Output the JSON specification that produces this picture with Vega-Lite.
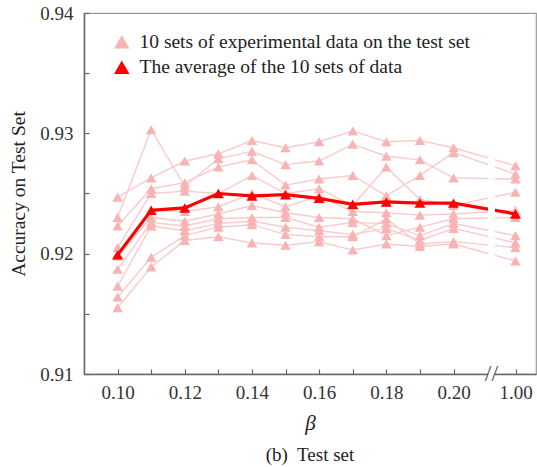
{
  "$schema": "https://vega.github.io/schema/vega-lite/v6.json",
  "width": 452,
  "height": 361,
  "autosize": {"type": "none"},
  "padding": {"left": 84, "top": 13, "right": 1, "bottom": 93},
  "background": "white",
  "config": {
    "font": "Liberation Serif",
    "view": {"stroke": "#9a9a9a", "strokeWidth": 1.2},
    "axis": {
      "domainColor": "#666666",
      "domainWidth": 1.5,
      "tickColor": "#666666",
      "tickWidth": 1.2,
      "tickSize": -5,
      "labelFont": "Liberation Serif",
      "labelFontSize": 19,
      "labelColor": "#333333",
      "titleFont": "Liberation Serif",
      "titleColor": "#222222",
      "titleFontWeight": "normal",
      "grid": false
    }
  },
  "title": {
    "text": "(b)\u00a0 Test set",
    "orient": "bottom",
    "font": "Liberation Serif",
    "fontSize": 19,
    "fontWeight": "normal",
    "color": "#222222",
    "offset": 13
  },
  "datasets": {
    "sets": [
      {"b":0.10,"acc":0.9247,"set":"S1"},{"b":0.11,"acc":0.9263,"set":"S1"},{"b":0.12,"acc":0.9277,"set":"S1"},{"b":0.13,"acc":0.9283,"set":"S1"},{"b":0.14,"acc":0.9294,"set":"S1"},{"b":0.15,"acc":0.9288,"set":"S1"},{"b":0.16,"acc":0.9293,"set":"S1"},{"b":0.17,"acc":0.9302,"set":"S1"},{"b":0.18,"acc":0.9293,"set":"S1"},{"b":0.19,"acc":0.9294,"set":"S1"},{"b":0.20,"acc":0.9288,"set":"S1"},{"b":1.00,"acc":0.9273,"set":"S1"},
      {"b":0.10,"acc":0.9230,"set":"S2"},{"b":0.11,"acc":0.9303,"set":"S2"},{"b":0.12,"acc":0.9256,"set":"S2"},{"b":0.13,"acc":0.9279,"set":"S2"},{"b":0.14,"acc":0.9285,"set":"S2"},{"b":0.15,"acc":0.9274,"set":"S2"},{"b":0.16,"acc":0.9277,"set":"S2"},{"b":0.17,"acc":0.9291,"set":"S2"},{"b":0.18,"acc":0.9281,"set":"S2"},{"b":0.19,"acc":0.9278,"set":"S2"},{"b":0.20,"acc":0.9263,"set":"S2"},{"b":1.00,"acc":0.9262,"set":"S2"},
      {"b":0.10,"acc":0.9223,"set":"S3"},{"b":0.11,"acc":0.9254,"set":"S3"},{"b":0.12,"acc":0.9259,"set":"S3"},{"b":0.13,"acc":0.9272,"set":"S3"},{"b":0.14,"acc":0.9278,"set":"S3"},{"b":0.15,"acc":0.9257,"set":"S3"},{"b":0.16,"acc":0.9262,"set":"S3"},{"b":0.17,"acc":0.9265,"set":"S3"},{"b":0.18,"acc":0.9248,"set":"S3"},{"b":0.19,"acc":0.9265,"set":"S3"},{"b":0.20,"acc":0.9284,"set":"S3"},{"b":1.00,"acc":0.9266,"set":"S3"},
      {"b":0.10,"acc":0.9205,"set":"S4"},{"b":0.11,"acc":0.9250,"set":"S4"},{"b":0.12,"acc":0.9252,"set":"S4"},{"b":0.13,"acc":0.9250,"set":"S4"},{"b":0.14,"acc":0.9265,"set":"S4"},{"b":0.15,"acc":0.9250,"set":"S4"},{"b":0.16,"acc":0.9254,"set":"S4"},{"b":0.17,"acc":0.9240,"set":"S4"},{"b":0.18,"acc":0.9272,"set":"S4"},{"b":0.19,"acc":0.9245,"set":"S4"},{"b":0.20,"acc":0.9240,"set":"S4"},{"b":1.00,"acc":0.9251,"set":"S4"},
      {"b":0.10,"acc":0.9200,"set":"S5"},{"b":0.11,"acc":0.9236,"set":"S5"},{"b":0.12,"acc":0.9235,"set":"S5"},{"b":0.13,"acc":0.9239,"set":"S5"},{"b":0.14,"acc":0.9250,"set":"S5"},{"b":0.15,"acc":0.9239,"set":"S5"},{"b":0.16,"acc":0.9248,"set":"S5"},{"b":0.17,"acc":0.9235,"set":"S5"},{"b":0.18,"acc":0.9234,"set":"S5"},{"b":0.19,"acc":0.9232,"set":"S5"},{"b":0.20,"acc":0.9233,"set":"S5"},{"b":1.00,"acc":0.9236,"set":"S5"},
      {"b":0.10,"acc":0.9198,"set":"S6"},{"b":0.11,"acc":0.9230,"set":"S6"},{"b":0.12,"acc":0.9227,"set":"S6"},{"b":0.13,"acc":0.9233,"set":"S6"},{"b":0.14,"acc":0.9240,"set":"S6"},{"b":0.15,"acc":0.9234,"set":"S6"},{"b":0.16,"acc":0.9230,"set":"S6"},{"b":0.17,"acc":0.9229,"set":"S6"},{"b":0.18,"acc":0.9215,"set":"S6"},{"b":0.19,"acc":0.9222,"set":"S6"},{"b":0.20,"acc":0.9229,"set":"S6"},{"b":1.00,"acc":0.9230,"set":"S6"},
      {"b":0.10,"acc":0.9187,"set":"S7"},{"b":0.11,"acc":0.9226,"set":"S7"},{"b":0.12,"acc":0.9223,"set":"S7"},{"b":0.13,"acc":0.9229,"set":"S7"},{"b":0.14,"acc":0.9230,"set":"S7"},{"b":0.15,"acc":0.9230,"set":"S7"},{"b":0.16,"acc":0.9222,"set":"S7"},{"b":0.17,"acc":0.9226,"set":"S7"},{"b":0.18,"acc":0.9225,"set":"S7"},{"b":0.19,"acc":0.9215,"set":"S7"},{"b":0.20,"acc":0.9225,"set":"S7"},{"b":1.00,"acc":0.9215,"set":"S7"},
      {"b":0.10,"acc":0.9173,"set":"S8"},{"b":0.11,"acc":0.9223,"set":"S8"},{"b":0.12,"acc":0.9219,"set":"S8"},{"b":0.13,"acc":0.9225,"set":"S8"},{"b":0.14,"acc":0.9227,"set":"S8"},{"b":0.15,"acc":0.9222,"set":"S8"},{"b":0.16,"acc":0.9219,"set":"S8"},{"b":0.17,"acc":0.9216,"set":"S8"},{"b":0.18,"acc":0.9221,"set":"S8"},{"b":0.19,"acc":0.9211,"set":"S8"},{"b":0.20,"acc":0.9221,"set":"S8"},{"b":1.00,"acc":0.9209,"set":"S8"},
      {"b":0.10,"acc":0.9164,"set":"S9"},{"b":0.11,"acc":0.9197,"set":"S9"},{"b":0.12,"acc":0.9215,"set":"S9"},{"b":0.13,"acc":0.9222,"set":"S9"},{"b":0.14,"acc":0.9224,"set":"S9"},{"b":0.15,"acc":0.9216,"set":"S9"},{"b":0.16,"acc":0.9214,"set":"S9"},{"b":0.17,"acc":0.9214,"set":"S9"},{"b":0.18,"acc":0.9229,"set":"S9"},{"b":0.19,"acc":0.9208,"set":"S9"},{"b":0.20,"acc":0.9210,"set":"S9"},{"b":1.00,"acc":0.9205,"set":"S9"},
      {"b":0.10,"acc":0.9155,"set":"S10"},{"b":0.11,"acc":0.9189,"set":"S10"},{"b":0.12,"acc":0.9211,"set":"S10"},{"b":0.13,"acc":0.9214,"set":"S10"},{"b":0.14,"acc":0.9209,"set":"S10"},{"b":0.15,"acc":0.9207,"set":"S10"},{"b":0.16,"acc":0.9210,"set":"S10"},{"b":0.17,"acc":0.9203,"set":"S10"},{"b":0.18,"acc":0.9208,"set":"S10"},{"b":0.19,"acc":0.9206,"set":"S10"},{"b":0.20,"acc":0.9208,"set":"S10"},{"b":1.00,"acc":0.9194,"set":"S10"}
    ],
    "avg": [
      {"b":0.10,"acc":0.9199},{"b":0.11,"acc":0.9236},{"b":0.12,"acc":0.9238},{"b":0.13,"acc":0.9250},{"b":0.14,"acc":0.9248},{"b":0.15,"acc":0.9249},{"b":0.16,"acc":0.9246},{"b":0.17,"acc":0.9241},{"b":0.18,"acc":0.9243},{"b":0.19,"acc":0.9242},{"b":0.20,"acc":0.9242},{"b":1.00,"acc":0.9233}
    ],
    "brk": [
      {"x":0.645,"x2":0.7355,"y":0.9093,"y2":0.9390,"mark":"//","ty":0.91,"tx":0.69}
    ]
  },
  "encoding": {
    "x": {
      "field": "b",
      "type": "quantitative",
      "scale": {"domain": [0.09, 0.20, 1.00, 1.01], "range": [0, 369.5, 431.5, 452], "nice": false, "zero": false},
      "axis": {
        "values": [0.10,0.11,0.12,0.13,0.14,0.15,0.16,0.17,0.18,0.19,0.20,1.00],
        "labelExpr": "round(datum.value*100) % 2 == 0 ? format(datum.value, '.2f') : ''",
        "labelPadding": 14,
        "title": "β",
        "titleFontSize": 21,
        "titleFontStyle": "italic",
        "titlePadding": 10
      }
    },
    "y": {
      "field": "acc",
      "type": "quantitative",
      "scale": {"domain": [0.91, 0.94], "nice": false, "zero": false},
      "axis": {
        "values": [0.91,0.915,0.92,0.925,0.93,0.935,0.94],
        "labelExpr": "abs(datum.value*100 - round(datum.value*100)) < 0.01 ? format(datum.value, '.2f') : ''",
        "labelPadding": 16,
        "title": "Accuracy on Test Set",
        "titleFontSize": 19.5,
        "titlePadding": 11
      }
    }
  },
  "layer": [
    {
      "data": {"name": "sets"},
      "mark": {"type": "line", "color": "#fbcaca", "strokeWidth": 1.4},
      "encoding": {"detail": {"field": "set"}}
    },
    {
      "data": {"name": "sets"},
      "mark": {"type": "point", "shape": "triangle-up", "filled": true, "size": 110, "opacity": 1},
      "encoding": {
        "detail": {"field": "set"},
        "color": {
          "datum": "sets",
          "scale": {"domain": ["sets", "avg"], "range": ["#f8b4b4", "#ff0000"]},
          "legend": {
            "orient": "none",
            "legendX": 28,
            "legendY": 19,
            "title": null,
            "symbolType": "triangle-up",
            "symbolSize": 240,
            "symbolStrokeWidth": 0,
            "symbolOpacity": 1,
            "labelFont": "Liberation Serif",
            "labelFontSize": 19.5,
            "labelColor": "#222222",
            "labelLimit": 500,
            "labelOffset": 8,
            "rowPadding": 4.5,
            "labelExpr": "datum.label == 'sets' ? '10 sets of experimental data on the test set' : 'The average of the 10 sets of data'"
          }
        }
      }
    },
    {
      "data": {"name": "avg"},
      "mark": {"type": "line", "color": "#ff0000", "strokeWidth": 3.2},
      "encoding": {}
    },
    {
      "data": {"name": "avg"},
      "mark": {"type": "point", "shape": "triangle-up", "filled": true, "size": 120, "opacity": 1},
      "encoding": {"color": {"datum": "avg"}}
    },
    {
      "data": {"name": "brk"},
      "mark": {"type": "rect", "color": "white"},
      "encoding": {
        "x": {"field": "x", "type": "quantitative"},
        "x2": {"field": "x2"},
        "y": {"field": "y", "type": "quantitative"},
        "y2": {"field": "y2"}
      }
    },
    {
      "data": {"name": "brk"},
      "mark": {"type": "text", "font": "Liberation Serif", "fontSize": 24, "color": "#555555", "baseline": "middle", "align": "center"},
      "encoding": {
        "x": {"field": "tx", "type": "quantitative"},
        "y": {"field": "ty", "type": "quantitative"},
        "text": {"field": "mark"}
      }
    }
  ]
}
